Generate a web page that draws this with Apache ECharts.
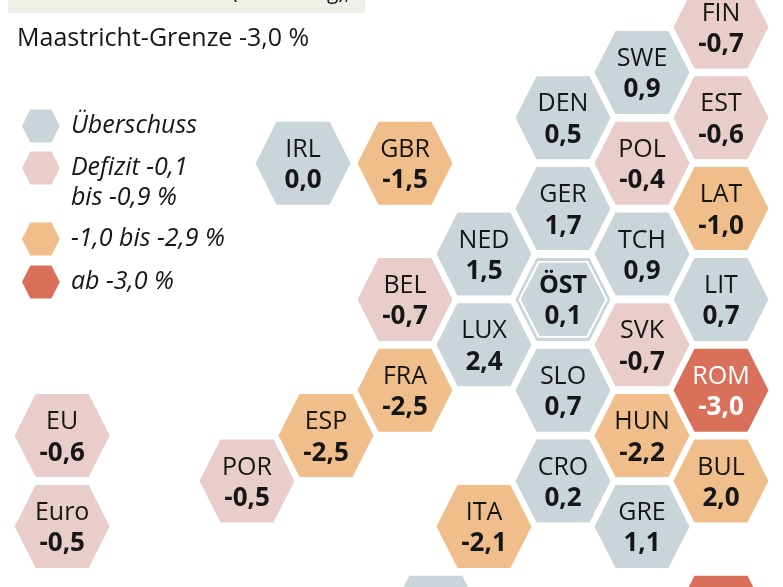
<!DOCTYPE html>
<html>
<head>
<meta charset="utf-8">
<script src="https://cdn.jsdelivr.net/npm/echarts@6/dist/echarts.min.js"></script>
<style>
  html, body { margin: 0; padding: 0; background: #fff; }
  #main { width: 783px; height: 587px; overflow: hidden; }
</style>
</head>
<body>
<div id="main"></div>
<script>
// Budgetsaldo je Land, Tile-Grid: Spalte/Zeile sind Gitterkoordinaten der Waben
var tileCodes  = ['FIN','SWE','DEN','EST','IRL','GBR','POL','GER','LAT','NED','TCH','BEL','ÖST','LIT','LUX','SVK','FRA','SLO','ROM','ESP','HUN','EU','POR','CRO','BUL','ITA','GRE','Euro','',''];
var tileValues = [-0.7,0.9,0.5,-0.6,0.0,-1.5,-0.4,1.7,-1.0,1.5,0.9,-0.7,0.1,0.7,2.4,-0.7,-2.5,0.7,-3.0,-2.5,-2.2,-0.6,-0.5,0.2,2.0,-2.1,1.1,-0.5,null,null];
var tileClass  = [1,0,0,1,0,2,1,0,2,0,0,1,0,0,0,1,2,0,3,2,2,1,1,0,2,2,0,1,0,3];
var tileCols   = [6,5,4,6,0.71,2,5,4,6,3,5,2,4,6,3,5,2,4,6,1,5,-2.34,0,4,6,3,5,-2.34,2.39,6];
var tileRows   = [0,1,2,2,3,3,3,4,4,5,5,6,6,6,7,7,8,8,8,9,9,9,10,10,10,11,11,11,13,13];

var classNames  = ['Überschuss','Defizit -0,1\nbis -0,9 %','-1,0 bis -2,9 %','ab -3,0 %'];
var classColors = ['#c9d5d8','#e8cdca','#efbe8a','#d9705a'];
var legendTops  = [104.5,118,217.5,260.5];

var highlightCode = 'ÖST';
var FONT = '"Open Sans", sans-serif';
var HEX = 'path://M21 0H74L95 41.5L74 83H21L0 41.5Z';

function fmt(v) {
    return v === null ? '' : v.toFixed(1).replace('.', ',');
}

function labelFor(code, value, light) {
    var c = light ? '#fff' : '#161616';
    return {
        show: true,
        position: 'inside',
        offset: [0, 2],
        formatter: code ? '{n|' + code + '}\n{v|' + fmt(value) + '}' : '',
        rich: {
            n: { fontFamily: FONT, fontSize: 25, color: c, lineHeight: 31, fontWeight: code === highlightCode ? 'bold' : 'normal' },
            v: { fontFamily: FONT, fontSize: 26, color: c, lineHeight: 31, fontWeight: 'bold' }
        }
    };
}

var series = classNames.map(function (name, k) {
    var data = [];
    tileCodes.forEach(function (code, i) {
        if (tileClass[i] !== k) return;
        data.push({
            value: [tileCols[i], tileRows[i]],
            label: code === highlightCode ? { show: false } : labelFor(code, tileValues[i], k === 3)
        });
    });
    return {
        name: name,
        type: 'scatter',
        symbol: HEX,
        symbolSize: [95, 83],
        itemStyle: { color: classColors[k], opacity: 1 },
        data: data,
        silent: true,
        z: 2
    };
});

// innerer weißer Rahmen für Österreich
var hi = tileCodes.indexOf(highlightCode);
series.push({
    type: 'scatter',
    symbol: HEX,
    symbolSize: [87, 75],
    itemStyle: { color: classColors[tileClass[hi]], borderColor: '#fff', borderWidth: 2, opacity: 1 },
    data: [{ value: [tileCols[hi], tileRows[hi]], label: labelFor(highlightCode, tileValues[hi], false) }],
    silent: true,
    z: 3
});

var myChart = echarts.init(document.getElementById('main'), null, { renderer: 'canvas' });
myChart.setOption({
    animation: false,
    backgroundColor: '#fff',
    // Gitter reicht unten über den Rand hinaus, die letzte Wabenreihe ist angeschnitten
    grid: { left: 0, top: 0, width: 783, height: 650, outerBoundsMode: 'none' },
    xAxis: { type: 'value', min: -3.127, max: 6.785, show: false },
    yAxis: { type: 'value', inverse: true, min: -0.595, max: 13.722, show: false },
    legend: classNames.map(function (name, k) {
        return {
            data: [name],
            left: 17,
            top: legendTops[k],
            orient: 'vertical',
            selectedMode: false,
            itemWidth: 38,
            itemHeight: 33,
            icon: HEX,
            itemStyle: { color: classColors[k] },
            // Leerzeile, damit die Wabe neben der ersten Textzeile steht
            formatter: function (n) { return n.indexOf('\n') >= 0 ? ' \n' + n : n; },
            textStyle: {
                fontFamily: FONT, fontSize: 25, fontStyle: 'italic', color: '#161616',
                lineHeight: 30, padding: [0, 0, 0, 6]
            }
        };
    }),
    graphic: [
        { type: 'rect', left: 8, top: 0, shape: { width: 357, height: 13 }, style: { fill: '#f1f0e8' }, z: 1 },
        { type: 'text', x: 350, y: 4, style: { text: '(Schätzung),', font: '21px ' + FONT, fill: '#161616', textAlign: 'right', textVerticalAlign: 'bottom' }, z: 5 },
        { type: 'text', left: 17, top: 26, style: { text: 'Maastricht-Grenze -3,0 %', font: '25px ' + FONT, fill: '#161616' }, z: 5 }
    ],
    series: series
});
</script>
</body>
</html>
